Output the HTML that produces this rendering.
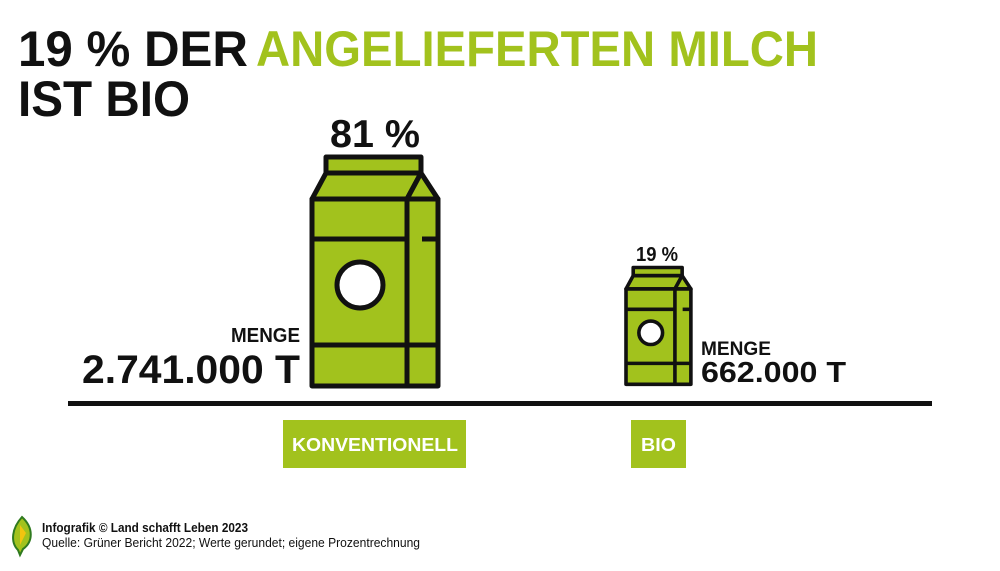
<!DOCTYPE html>
<html><head><meta charset="utf-8"><style>
html,body{margin:0;padding:0;background:#fff;}
svg{display:block;font-family:"Liberation Sans",sans-serif;font-weight:bold;}
</style></head><body>
<svg width="1000" height="571" viewBox="0 0 1000 571" xmlns="http://www.w3.org/2000/svg">
<defs>
<g id="cartonShape" stroke-linejoin="round">
  <rect x="326" y="157" width="95" height="16" fill="#a2c21d"/>
  <polygon points="326,173 421,173 407,199 312,199" fill="#a2c21d"/>
  <polygon points="421,173 438,199 407,199" fill="#a2c21d"/>
  <rect x="312" y="199" width="126" height="187" fill="#a2c21d"/>
  <line x1="407" y1="199" x2="407" y2="386"/>
  <line x1="312" y1="239" x2="407" y2="239"/>
  <line x1="422" y1="239" x2="438" y2="239"/>
  <line x1="312" y1="345" x2="438" y2="345"/>
  <circle cx="360" cy="285" r="23" fill="#fff"/>
</g>
</defs>
<text x="18" y="66" font-size="50" textLength="230" lengthAdjust="spacingAndGlyphs" fill="#111">19 % DER</text>
<text x="256" y="66" font-size="50" textLength="562" lengthAdjust="spacingAndGlyphs" fill="#a2c21d">ANGELIEFERTEN MILCH</text>
<text x="18" y="116" font-size="50" textLength="172" lengthAdjust="spacingAndGlyphs" fill="#111">IST BIO</text>

<text x="330" y="147" font-size="39" textLength="90" lengthAdjust="spacingAndGlyphs" fill="#111">81 %</text>
<g stroke="#111" stroke-width="5"><use href="#cartonShape"/></g>
<text x="231" y="342" font-size="20" textLength="69" lengthAdjust="spacingAndGlyphs" fill="#111">MENGE</text>
<text x="82" y="383" font-size="40" textLength="218" lengthAdjust="spacingAndGlyphs" fill="#111">2.741.000 T</text>

<text x="636" y="261" font-size="20" textLength="42" lengthAdjust="spacingAndGlyphs" fill="#111">19 %</text>
<g transform="translate(626,267) scale(0.515 0.51) translate(-312,-156)" stroke="#111" stroke-width="7"><use href="#cartonShape"/></g>
<text x="701" y="355" font-size="19" textLength="70" lengthAdjust="spacingAndGlyphs" fill="#111">MENGE</text>
<text x="701" y="382" font-size="29" textLength="145" lengthAdjust="spacingAndGlyphs" fill="#111">662.000 T</text>

<rect x="68" y="401" width="864" height="5" fill="#111"/>

<rect x="283" y="420" width="183" height="48" fill="#a2c21d"/>
<text x="292" y="451" font-size="18" textLength="166" lengthAdjust="spacingAndGlyphs" fill="#fff">KONVENTIONELL</text>
<rect x="631" y="420" width="55" height="48" fill="#a2c21d"/>
<text x="641" y="451" font-size="18" textLength="35" lengthAdjust="spacingAndGlyphs" fill="#fff">BIO</text>

<g>
  <path d="M22,517 C12,528 10,542 18,550 L20,555 L23,549 C33,542 34,528 22,517 Z" fill="#a2c21d" stroke="#2f7a1f" stroke-width="2"/>
  <path d="M20,525 L26,533 L20,545 Z" fill="#f1c40f"/>
</g>
<text x="42" y="532" font-size="13" textLength="206" lengthAdjust="spacingAndGlyphs" fill="#111">Infografik © Land schafft Leben 2023</text>
<text x="42" y="547" font-size="13" font-weight="normal" textLength="378" lengthAdjust="spacingAndGlyphs" fill="#111">Quelle: Grüner Bericht 2022; Werte gerundet; eigene Prozentrechnung</text>
</svg>
</body></html>
